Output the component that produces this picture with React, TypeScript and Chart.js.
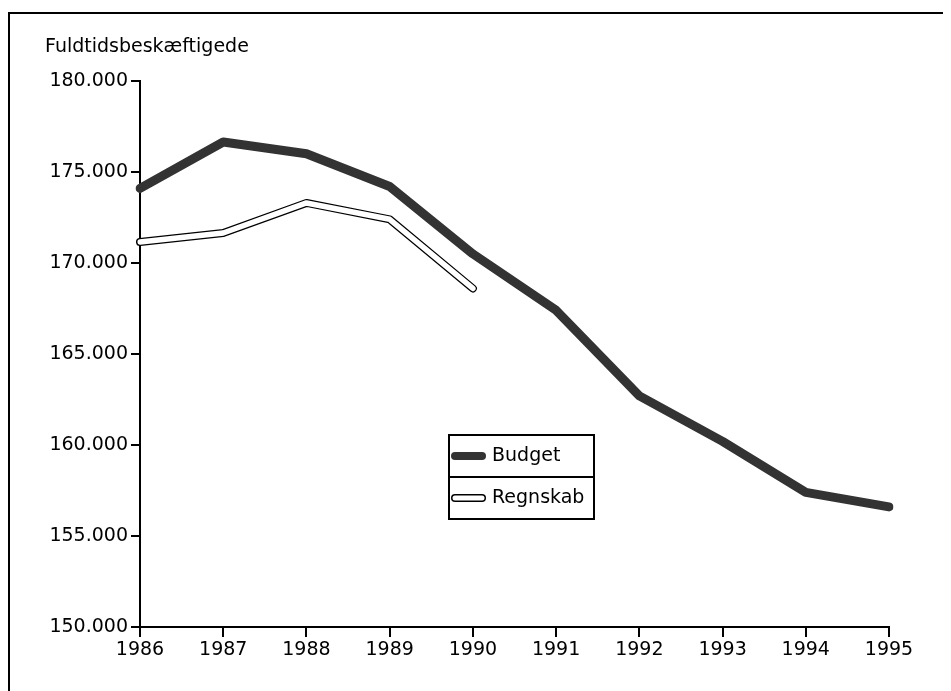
import React, { useEffect, useRef } from "react";
import { Chart, registerables } from "chart.js";

Chart.register(...registerables);

const years = ["1986", "1987", "1988", "1989", "1990", "1991", "1992", "1993", "1994", "1995"];
const budget = [174100, 176650, 176000, 174200, 170500, 167400, 162700, 160200, 157400, 156600];
const regnskab = [171150, 171650, 173300, 172400, 168600, null, null, null, null, null];
const yTitle = "Fuldtidsbeskæftigede";
const legendLabels = ["Budget", "Regnskab"];

const FONT = "'DejaVu Sans', sans-serif";
const fmt = (v: number) => String(Math.round(v)).replace(/\B(?=(\d{3})+(?!\d))/g, ".");

const W = 943;
const H = 683;

const overlay = {
  id: "overlay",
  afterDraw(chart: any) {
    const ctx = chart.ctx as CanvasRenderingContext2D;
    ctx.save();
    // title
    ctx.fillStyle = "#000";
    ctx.font = `19px ${FONT}`;
    ctx.textBaseline = "alphabetic";
    ctx.textAlign = "left";
    ctx.fillText(yTitle, 37, 44);
    // legend box
    const x0 = 441, x1 = 586, y0 = 427, y1 = 511, ym = 469;
    ctx.strokeStyle = "#000";
    ctx.lineWidth = 2;
    ctx.strokeRect(x0, y0, x1 - x0, y1 - y0);
    ctx.beginPath();
    ctx.moveTo(x0, ym);
    ctx.lineTo(x1, ym);
    ctx.stroke();
    ctx.lineCap = "round";
    // budget sample
    let sy = (y0 + ym) / 2;
    ctx.strokeStyle = "#333";
    ctx.lineWidth = 8;
    ctx.beginPath();
    ctx.moveTo(447, sy);
    ctx.lineTo(474, sy);
    ctx.stroke();
    ctx.fillStyle = "#000";
    ctx.textBaseline = "middle";
    ctx.fillText(legendLabels[0], 484, sy);
    // regnskab sample
    sy = (ym + y1) / 2;
    ctx.strokeStyle = "#000";
    ctx.lineWidth = 8;
    ctx.beginPath();
    ctx.moveTo(447, sy);
    ctx.lineTo(474, sy);
    ctx.stroke();
    ctx.strokeStyle = "#fff";
    ctx.lineWidth = 5;
    ctx.beginPath();
    ctx.moveTo(447, sy);
    ctx.lineTo(474, sy);
    ctx.stroke();
    ctx.fillText(legendLabels[1], 484, sy);
    ctx.restore();
  },
};

export default function App() {
  const ref = useRef<HTMLCanvasElement>(null);
  useEffect(() => {
    if (!ref.current) return;
    const chart = new Chart(ref.current, {
      type: "line",
      data: {
        labels: years,
        datasets: [
          {
            label: "Budget",
            data: budget,
            borderColor: "#333",
            borderWidth: 9,
            borderCapStyle: "round",
            borderJoinStyle: "round",
            pointRadius: 0,
            tension: 0,
          },
          {
            label: "Regnskab outline",
            data: regnskab,
            borderColor: "#000",
            borderWidth: 8,
            borderCapStyle: "round",
            borderJoinStyle: "round",
            pointRadius: 0,
            tension: 0,
            order: 2,
          },
          {
            label: "Regnskab",
            data: regnskab,
            borderColor: "#fff",
            borderWidth: 5.5,
            borderCapStyle: "round",
            borderJoinStyle: "round",
            pointRadius: 0,
            tension: 0,
            order: 1,
          },
        ] as any,
      },
      options: {
        responsive: false,
        animation: false,
        layout: { padding: { left: 0, right: 62, top: 73, bottom: 0 } },
        plugins: { legend: { display: false }, tooltip: { enabled: false } },
        scales: {
          x: {
            type: "category",
            offset: false,
            grid: { drawOnChartArea: false, drawTicks: true, tickLength: 10, color: "#000", lineWidth: 2 },
            border: { display: true, color: "#000", width: 2 },
            ticks: { color: "#000", font: { family: FONT, size: 19 }, padding: 2, maxRotation: 0, autoSkip: false },
            afterFit: (s: any) => { s.height = 64; },
          },
          y: {
            min: 150000,
            max: 180000,
            grid: { drawOnChartArea: false, drawTicks: true, tickLength: 9, color: "#000", lineWidth: 2 },
            border: { display: true, color: "#000", width: 2 },
            ticks: {
              stepSize: 5000,
              color: "#000",
              font: { family: FONT, size: 19 },
              padding: 3,
              callback: (v: any) => fmt(Number(v)),
            },
            afterFit: (s: any) => { s.width = 132; },
          },
        },
      },
      plugins: [overlay],
    });
    return () => chart.destroy();
  }, []);

  return (
    <div style={{ position: "relative", width: W, height: H, overflow: "hidden" }}>
      <div
        style={{
          position: "absolute",
          left: 0,
          top: 4,
          width: 1000,
          height: 1000,
          borderLeft: "2px solid #000",
          borderTop: "2px solid #000",
          boxSizing: "border-box",
        }}
      />
      <canvas ref={ref} width={W} height={H} style={{ position: "absolute", left: 0, top: 0 }} />
    </div>
  );
}
